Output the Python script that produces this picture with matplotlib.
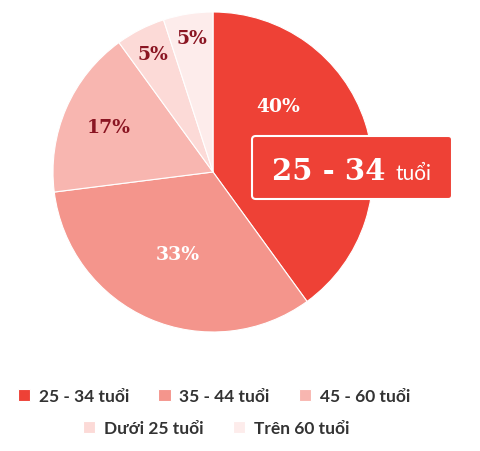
import numpy as np
import matplotlib.pyplot as plt
from matplotlib.patches import FancyBboxPatch

# Data
categories = ['25 - 34 tuổi', '35 - 44 tuổi', '45 - 60 tuổi', 'Dưới 25 tuổi', 'Trên 60 tuổi']
shares = [40, 33, 17, 5, 5]
colors = ['#ee4136', '#f4958c', '#f8b6b0', '#fcdad7', '#fdeceb']
label_colors = ['white', 'white', '#8a1522', '#8a1522', '#8a1522']

W, H = 480, 452
fig = plt.figure(figsize=(W / 100, H / 100), dpi=100)

# pie axes: centre (213,173) px, radius 160 px
cx, cy, r = 213, 173, 160
ax = fig.add_axes([(cx - r) / W, (H - cy - r) / H, 2 * r / W, 2 * r / H])
wedges, _ = ax.pie(shares, colors=colors, startangle=90, counterclock=False,
                   radius=1, wedgeprops=dict(edgecolor='white', linewidth=0.8))
ax.set_xlim(-1, 1)
ax.set_ylim(-1, 1)
ax.set_aspect('equal')
ax.axis('off')

# percentage labels
label_r = [0.58, 0.56, 0.71, 0.83, 0.85]
for i, (w, val) in enumerate(zip(wedges, shares)):
    ang = np.deg2rad((w.theta1 + w.theta2) / 2)
    if i == 0:
        ang = np.deg2rad(45)  # first label moved up, out of the callout box
    ax.text(label_r[i] * np.cos(ang), label_r[i] * np.sin(ang), f'{val}%',
            ha='center', va='center', fontsize=13.5, fontweight='bold',
            family='DejaVu Serif', color=label_colors[i])

# callout box
bx0, by0, bw, bh = 252, 137, 200, 63
box = FancyBboxPatch((bx0 / W, (H - by0 - bh) / H), bw / W, bh / H,
                     boxstyle='round,pad=0,rounding_size=0.008',
                     transform=fig.transFigure, facecolor=colors[0],
                     edgecolor='white', linewidth=1.5)
fig.patches.append(box)
fig.text(272 / W, (H - 180) / H, '25 - 34', ha='left', va='baseline',
         fontsize=21, fontweight='bold', family='DejaVu Serif', color='white')
fig.text(395 / W, (H - 180) / H, 'tuổi', ha='left', va='baseline',
         fontsize=15, family='Lato', color='white')

# legend, two centred rows
common = dict(loc='center', frameon=False, handlelength=0.7, handleheight=0.7,
              handletextpad=0.5, columnspacing=1.7,
              prop=dict(family='Lato', weight='bold', size=12.5))
leg1 = fig.legend(wedges[:3], categories[:3], ncol=3,
                  bbox_to_anchor=(214 / W, (H - 397) / H), **common)
leg2 = fig.legend(wedges[3:], categories[3:], ncol=2,
                  bbox_to_anchor=(216 / W, (H - 429) / H), **common)
for leg in (leg1, leg2):
    for t in leg.get_texts():
        t.set_color('#333333')

fig.savefig('out.png', dpi=100)
